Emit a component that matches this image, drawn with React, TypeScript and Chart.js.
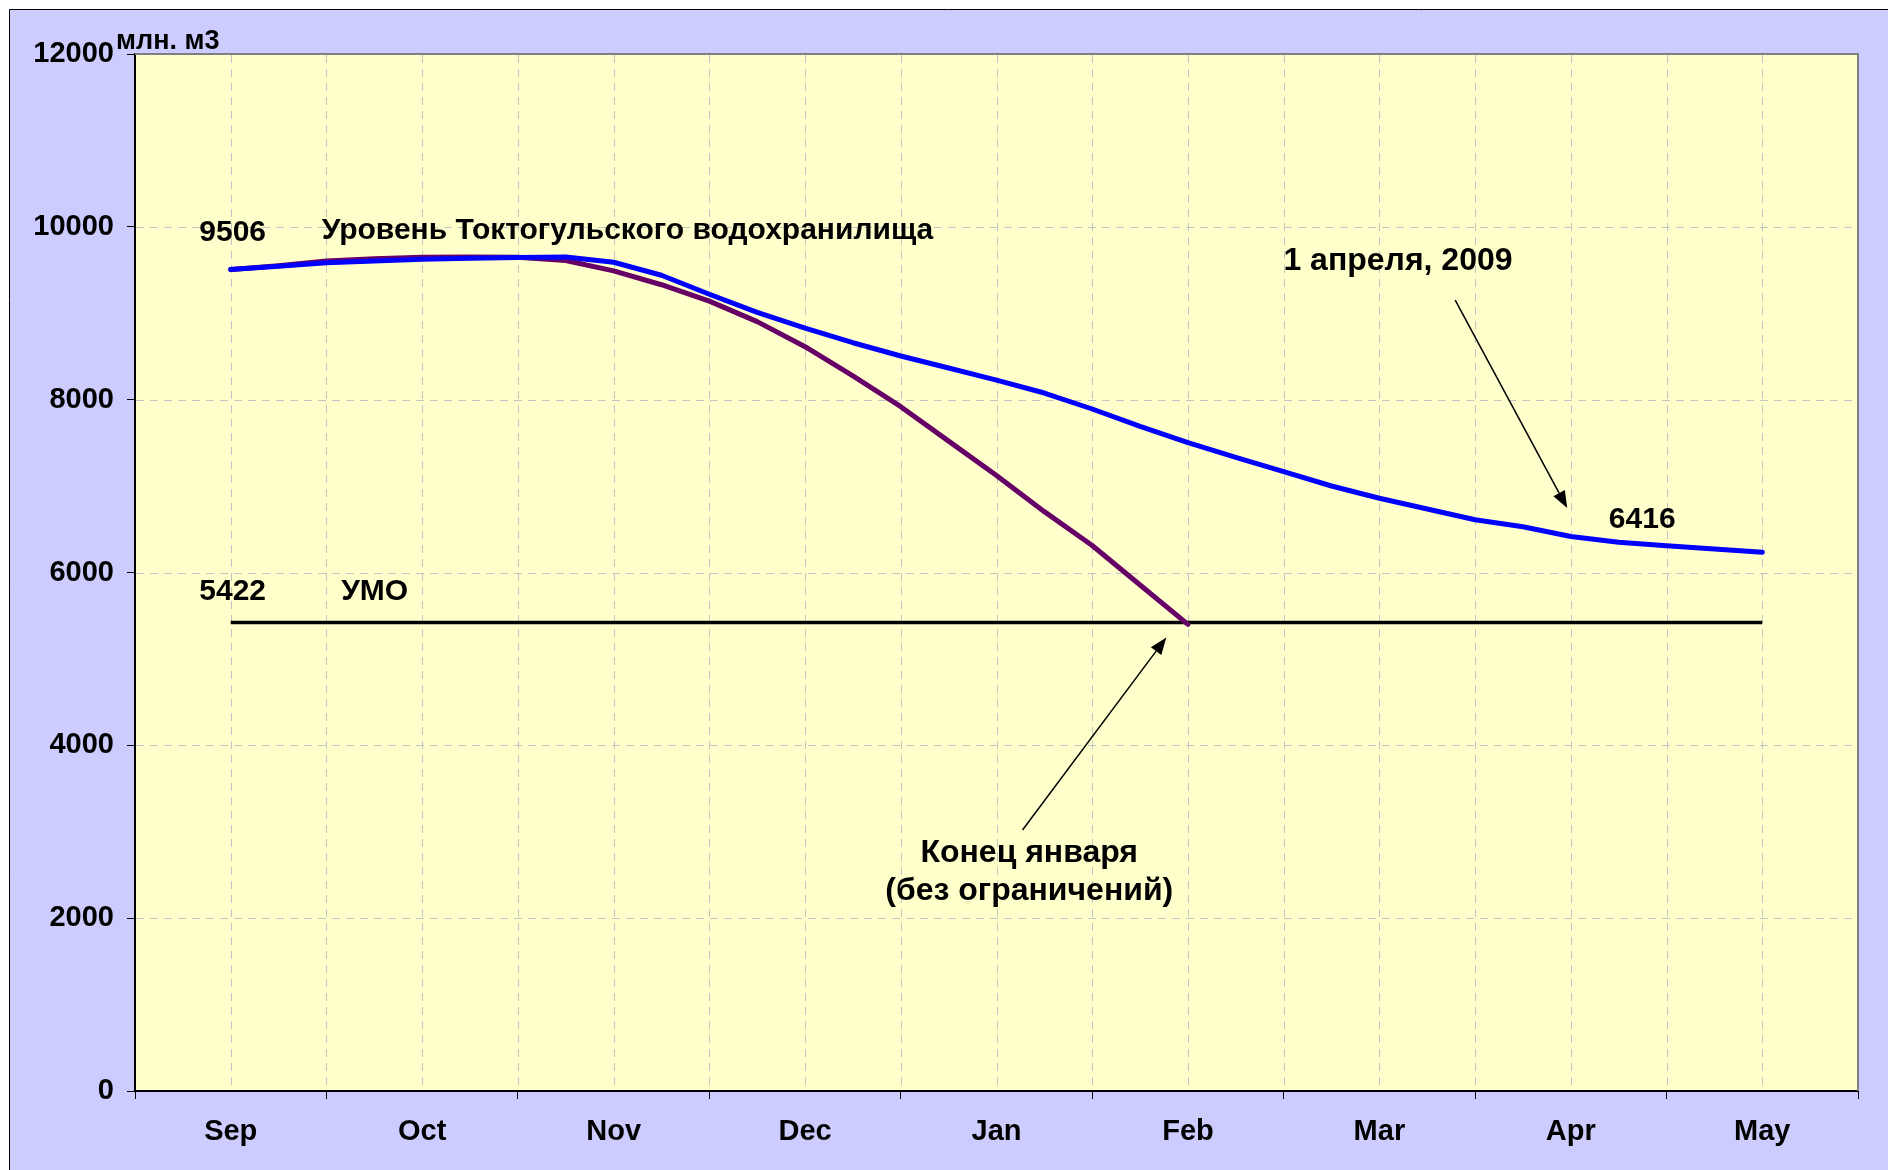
import React, { useEffect, useRef } from 'react';
import { Chart, registerables } from 'chart.js';

Chart.register(...registerables);

// ---- data ----
const monthLabels = ['Sep', 'Oct', 'Nov', 'Dec', 'Jan', 'Feb', 'Mar', 'Apr', 'May'];

// positions (in months from Sep) of the quarter-month readings
const weekPositions = [
  0, 0.25, 0.5, 0.75, 1, 1.25, 1.5, 1.75, 2, 2.25, 2.5, 2.75, 3, 3.25, 3.5, 3.75,
  4, 4.25, 4.5, 4.75, 5, 5.25, 5.5, 5.75, 6, 6.25, 6.5, 6.75, 7, 7.25, 7.5, 7.75, 8,
];

// Level of Toktogul reservoir, forecast to reach 6416 on 1 April 2009 (mln m3)
const april2009Level = [
  9506, 9545, 9585, 9605, 9624, 9636, 9645, 9650, 9590, 9440, 9220, 9010, 8827,
  8659, 8505, 8366, 8227, 8077, 7892, 7690, 7502, 7333, 7167, 7001, 6859, 6735,
  6610, 6530, 6416, 6350, 6310, 6272, 6234,
];

// Level without restrictions, reaching dead storage at the end of January (mln m3)
const endJanuaryLevel = [
  9506, 9550, 9605, 9632, 9648, 9652, 9648, 9610, 9490, 9330, 9140, 8903, 8613,
  8274, 7919, 7520, 7123, 6704, 6313, 5855, 5400,
];

// УМО - dead storage level (mln m3)
const umoLevel = 5422;
const umoSpan = [0, 8];

const yTickValues = [0, 2000, 4000, 6000, 8000, 10000, 12000];
const xTickValues = [
  -0.5, 0, 0.5, 1, 1.5, 2, 2.5, 3, 3.5, 4, 4.5, 5, 5.5, 6, 6.5, 7, 7.5, 8, 8.5,
];

const unitLabel = 'млн. м3';

// annotations in data units
const noteTexts = ['9506', 'Уровень Токтогульского водохранилища', '1 апреля, 2009', '6416', '5422', 'УМО', 'Конец января', '(без ограничений)'];
const noteX = [0.01, 0.475, 6.097, 7.373, 0.01, 0.752, 4.171, 4.171];
const noteY = [9935, 9955, 9597, 6608, 5783, 5783, 2750, 2311];
const noteAlign = ['center', 'left', 'center', 'center', 'center', 'center', 'center', 'center'];
const noteSize = [30, 30, 32, 30, 30, 30, 32, 32];

const arrowFrom = [[6.396, 9153], [4.136, 3020]];
const arrowTo = [[6.981, 6746], [4.887, 5248]];

const FONT = "'Liberation Sans', Arial, sans-serif";
const FONT_SIZE = 29;

export default function App() {
  const canvasRef = useRef<HTMLCanvasElement>(null);

  useEffect(() => {
    const canvas = canvasRef.current;
    if (!canvas) return;

    const decor = {
      id: 'decor',
      beforeDraw(chart: any) {
        const { ctx, width, height, chartArea: a } = chart;
        ctx.save();
        ctx.fillStyle = '#ffffff';
        ctx.fillRect(0, 0, width, height);
        ctx.fillStyle = '#ccccff';
        ctx.fillRect(9, 9, width - 9, height - 9);
        ctx.strokeStyle = '#000000';
        ctx.lineWidth = 1;
        ctx.beginPath();
        ctx.moveTo(9.5, height);
        ctx.lineTo(9.5, 9.5);
        ctx.lineTo(width, 9.5);
        ctx.stroke();
        ctx.fillStyle = '#ffffcc';
        ctx.fillRect(a.left, a.top, a.right - a.left, a.bottom - a.top);
        ctx.restore();
      },
      beforeDatasetsDraw(chart: any) {
        const { ctx, chartArea: a, scales } = chart;
        const xs = scales.x;
        const ys = scales.y;
        ctx.save();
        ctx.strokeStyle = '#c4c4c4';
        ctx.lineWidth = 1;
        ctx.setLineDash([8, 6]);
        xTickValues.forEach((v) => {
          if (v <= -0.5 || v >= 8.5) return;
          const px = Math.round(xs.getPixelForValue(v)) + 0.5;
          ctx.beginPath();
          ctx.moveTo(px, a.top + 1);
          ctx.lineTo(px, a.bottom - 1);
          ctx.stroke();
        });
        yTickValues.forEach((v) => {
          if (v <= 0 || v >= 12000) return;
          const py = Math.round(ys.getPixelForValue(v)) + 0.5;
          ctx.beginPath();
          ctx.moveTo(a.left + 1, py);
          ctx.lineTo(a.right - 1, py);
          ctx.stroke();
        });
        ctx.setLineDash([]);
        ctx.strokeStyle = '#808080';
        ctx.lineWidth = 2;
        ctx.beginPath();
        ctx.moveTo(a.left, a.top);
        ctx.lineTo(a.right, a.top);
        ctx.lineTo(a.right, a.bottom);
        ctx.stroke();
        ctx.restore();
      },
      afterDatasetsDraw(chart: any) {
        const { ctx, chartArea: a, scales } = chart;
        const xs = scales.x;
        const ys = scales.y;
        ctx.save();
        ctx.fillStyle = '#000000';
        ctx.textBaseline = 'middle';
        noteTexts.forEach((t, i) => {
          ctx.font = `bold ${noteSize[i]}px ${FONT}`;
          ctx.textAlign = noteAlign[i] as CanvasTextAlign;
          ctx.fillText(t, xs.getPixelForValue(noteX[i]), ys.getPixelForValue(noteY[i]));
        });
        ctx.font = `bold 27px ${FONT}`;
        ctx.textAlign = 'left';
        ctx.fillText(unitLabel, a.left - 19, a.top - 12);

        ctx.strokeStyle = '#000000';
        ctx.lineWidth = 1.5;
        arrowFrom.forEach((f, i) => {
          const x1 = xs.getPixelForValue(f[0]);
          const y1 = ys.getPixelForValue(f[1]);
          const x2 = xs.getPixelForValue(arrowTo[i][0]);
          const y2 = ys.getPixelForValue(arrowTo[i][1]);
          const ang = Math.atan2(y2 - y1, x2 - x1);
          const len = 17;
          const hw = 6.5;
          const bx = x2 - len * Math.cos(ang);
          const by = y2 - len * Math.sin(ang);
          ctx.beginPath();
          ctx.moveTo(x1, y1);
          ctx.lineTo(bx, by);
          ctx.stroke();
          ctx.beginPath();
          ctx.moveTo(x2, y2);
          ctx.lineTo(bx + hw * Math.sin(ang), by - hw * Math.cos(ang));
          ctx.lineTo(bx - hw * Math.sin(ang), by + hw * Math.cos(ang));
          ctx.closePath();
          ctx.fill();
        });
        ctx.restore();
      },
    };

    const font = { family: FONT, size: FONT_SIZE, weight: 'bold' as const };

    const chart = new Chart(canvas, {
      type: 'line',
      data: {
        datasets: [
          {
            label: '1 апреля, 2009',
            data: weekPositions.map((x, i) => ({ x, y: april2009Level[i] })),
            borderColor: '#0000ff',
            borderWidth: 5,
            pointRadius: 0,
            tension: 0,
            borderCapStyle: 'round',
            borderJoinStyle: 'round',
          },
          {
            label: 'Конец января',
            data: endJanuaryLevel.map((y, i) => ({ x: weekPositions[i], y })),
            borderColor: '#660066',
            borderWidth: 5,
            pointRadius: 0,
            tension: 0,
            borderCapStyle: 'round',
            borderJoinStyle: 'round',
          },
          {
            label: 'УМО',
            data: umoSpan.map((x) => ({ x, y: umoLevel })),
            borderColor: '#000000',
            borderWidth: 3.5,
            pointRadius: 0,
            tension: 0,
          },
        ],
      },
      options: {
        animation: false,
        responsive: false,
        events: [],
        layout: { padding: { top: 54, right: 30, left: 0, bottom: 0 } },
        plugins: {
          legend: { display: false },
          tooltip: { enabled: false },
          title: { display: false },
        },
        scales: {
          x: {
            type: 'linear',
            min: -0.5,
            max: 8.5,
            afterBuildTicks: (s: any) => {
              s.ticks = xTickValues.map((v) => ({ value: v }));
            },
            afterFit: (s: any) => {
              s.height = 79;
            },
            grid: {
              drawOnChartArea: false,
              drawTicks: true,
              tickLength: 8,
              tickWidth: 1,
              tickColor: (c: any) =>
                c.tick && Number.isInteger(c.tick.value) ? 'rgba(0,0,0,0)' : '#000000',
            },
            border: { display: true, color: '#000000', width: 2 },
            ticks: {
              autoSkip: false,
              maxRotation: 0,
              minRotation: 0,
              padding: 16,
              color: '#000000',
              font,
              callback: (v: any) => (Number.isInteger(v) ? monthLabels[v] : ''),
            },
          },
          y: {
            type: 'linear',
            min: 0,
            max: 12000,
            afterBuildTicks: (s: any) => {
              s.ticks = yTickValues.map((v) => ({ value: v }));
            },
            afterFit: (s: any) => {
              s.width = 135;
            },
            grid: {
              drawOnChartArea: false,
              drawTicks: true,
              tickLength: 8,
              tickWidth: 1,
              tickColor: '#000000',
            },
            border: { display: true, color: '#000000', width: 2 },
            ticks: {
              padding: 13,
              color: '#000000',
              font,
              callback: (v: any) => String(v),
            },
          },
        },
      },
      plugins: [decor],
    });

    return () => {
      chart.destroy();
    };
  }, []);

  return (
    <div style={{ position: 'fixed', left: 0, top: 0, width: 1888, height: 1170 }}>
      <canvas ref={canvasRef} width={1888} height={1170} style={{ display: 'block' }} />
    </div>
  );
}
